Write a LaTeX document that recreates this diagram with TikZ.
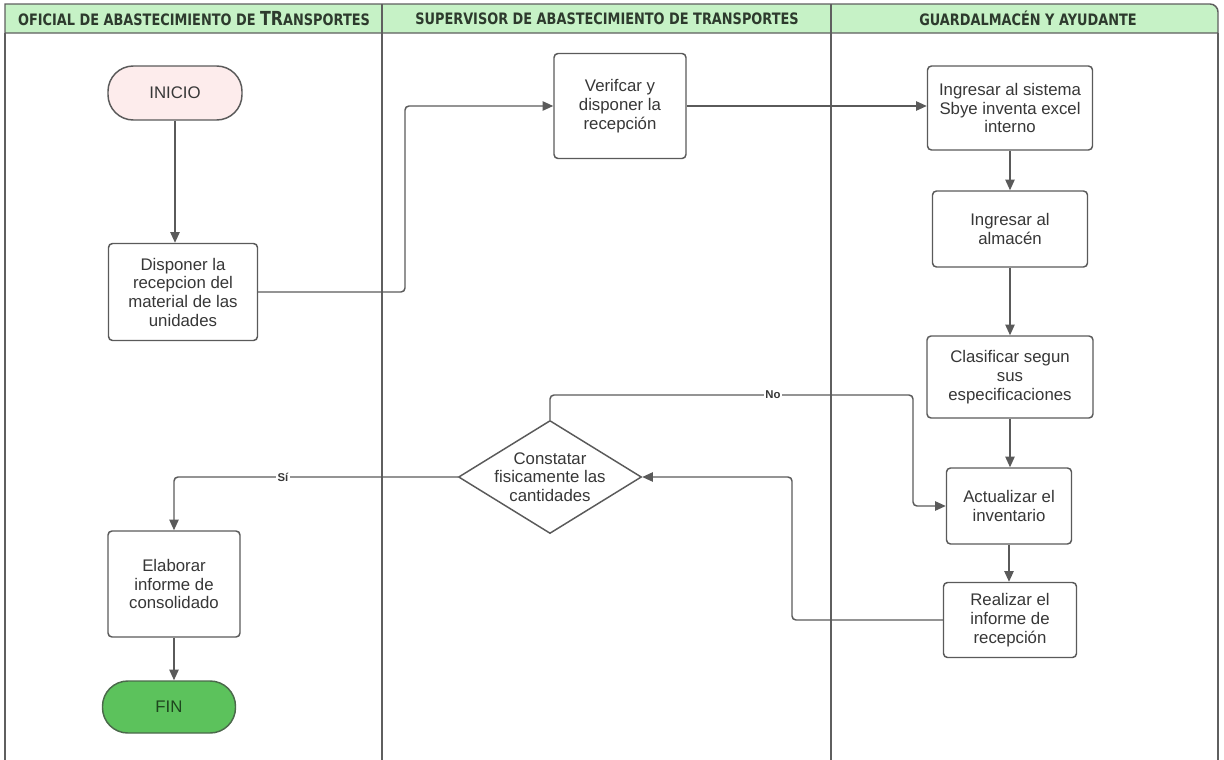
\documentclass[tikz,border=0pt]{standalone}
\usepackage{fontspec}
\setmainfont{Liberation Sans}
\newfontfamily\hdrfont[FakeStretch=0.82]{DejaVu Sans}
\usetikzlibrary{arrows.meta,shapes.geometric}
\definecolor{frame}{RGB}{95,95,95}
\definecolor{hdrfill}{RGB}{198,242,198}
\definecolor{hdrtxt}{RGB}{45,58,45}
\definecolor{nodeline}{RGB}{90,90,90}
\definecolor{txt}{RGB}{55,55,55}
\definecolor{startfill}{RGB}{253,236,236}
\definecolor{endfill}{RGB}{92,194,92}
\definecolor{endline}{RGB}{75,105,75}
\definecolor{endtxt}{RGB}{30,70,30}
\begin{document}
\begin{tikzpicture}[x=0.75pt,y=-0.75pt,
  bodyf/.style={font=\fontsize{12.6}{14}\selectfont},
  proc/.style={draw=nodeline, line width=1.1pt, rounded corners=3pt, fill=white,
    align=center, bodyf, text=txt, inner sep=2pt},
  term/.style={proc, rounded corners=19pt},
  arr/.style={draw=nodeline, line width=1.1pt, rounded corners=3pt,
    -{Triangle[length=8pt,width=7pt]}},
  lbl/.style={fill=white, inner sep=1pt, text=txt, font=\bfseries\fontsize{8.5}{9}\selectfont},
  hdr/.style={text=hdrtxt, font=\hdrfont\bfseries\fontsize{11.8}{13}\selectfont},
  lane/.style={draw=frame, line width=1.1pt}]
\useasboundingbox (0,0) rectangle (1224,760);
% lanes
\path[fill=hdrfill, draw=frame, line width=1.1pt] (5,33) -- (5,4) [rounded corners=6pt] -- (1218,4) [sharp corners] -- (1218,33) -- cycle;
\draw[lane] (5,33) -- (5,762);
\draw[lane] (1218,33) -- (1218,762);
\draw[lane] (382,4) -- (382,762);
\draw[lane] (831,4) -- (831,762);
\node[hdr] (h1) at (194,18.5) {OFICIAL DE ABASTECIMIENTO DE {\fontsize{14.5}{15}\selectfont TR}ANSPORTES};
\node[hdr] (h2) at (607,18.5) {SUPERVISOR DE ABASTECIMIENTO DE TRANSPORTES};
\node[hdr] (h3) at (1028,18.5) {GUARDALMACÉN Y AYUDANTE};
% nodes
\node[term, fill=startfill, minimum width=100.5pt, minimum height=40.5pt] (inicio) at (175,93) {INICIO};
\node[proc, minimum width=111.75pt, minimum height=72.75pt] (disp) at (183,292) {Disponer la\\recepcion del\\material de las\\unidades};
\node[proc, minimum width=99pt, minimum height=78.75pt] (verif) at (620,106) {Verifcar y\\disponer la\\recepción};
\node[proc, minimum width=123.75pt, minimum height=63pt] (sist) at (1010,108) {Ingresar al sistema\\Sbye inventa excel\\interno};
\node[proc, minimum width=116.25pt, minimum height=57pt] (alm) at (1010,229) {Ingresar al\\almacén};
\node[proc, minimum width=124.5pt, minimum height=61.5pt] (clas) at (1010,377) {Clasificar segun\\sus\\especificaciones};
\node[diamond, draw=nodeline, line width=1.1pt, fill=white, minimum width=137.25pt, minimum height=84.75pt, inner sep=0pt] (const) at (550,477) {};
\node[align=center, bodyf, text=txt] (constt) at (const) {Constatar\\fisicamente las\\cantidades};
\node[proc, minimum width=93.75pt, minimum height=57pt] (act) at (1009,506) {Actualizar el\\inventario};
\node[proc, minimum width=99.75pt, minimum height=56.25pt] (real) at (1010,620) {Realizar el\\informe de\\recepción};
\node[proc, minimum width=99pt, minimum height=79.5pt] (elab) at (174,584) {Elaborar\\informe de\\consolidado};
\node[term, fill=endfill, draw=endline, text=endtxt, minimum width=99.75pt, minimum height=39pt] (fin) at (169,707) {FIN};
% connectors
\coordinate (dA) at (405,292);
\coordinate (nA) at (913,395);
\coordinate (rA) at (792,620);
\draw[arr] (inicio.south) -- (inicio.south |- disp.north);
\draw[arr] (disp.east) -- (dA) |- (verif.west);
\draw[arr] (verif.east) -- (verif.east -| sist.west);
\draw[arr] (sist.south) -- (alm.north);
\draw[arr] (alm.south) -- (clas.north);
\draw[arr] (clas.south) -- (clas.south |- act.north);
\draw[arr] (act.south) -- (act.south |- real.north);
\draw[arr] (real.west) -- (rA) |- (const.east);
\draw[arr] (const.north) |- (nA) |- (act.west);
\draw[arr] (const.west) -| (elab.north);
\draw[arr] (elab.south) -- (elab.south |- fin.north);
\node[lbl] (no) at (773,395) {No};
\node[lbl] (si) at (283,477) {Sí};
\end{tikzpicture}
\end{document}
